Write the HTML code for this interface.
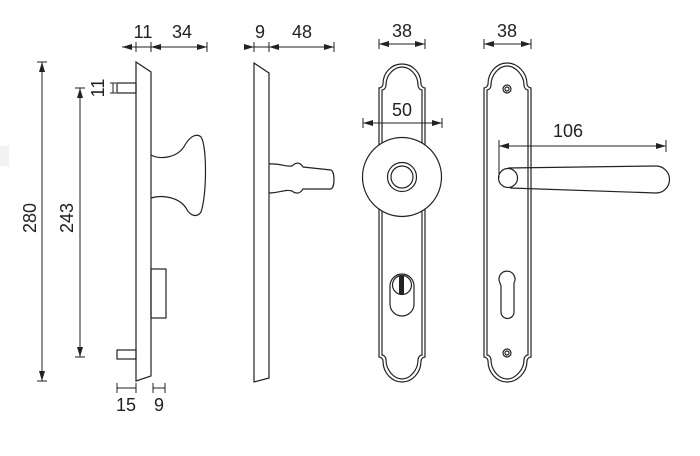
<!DOCTYPE html>
<html><head><meta charset="utf-8"><style>
html,body{margin:0;padding:0;background:#fff;}
svg{display:block;}
text{font-family:"Liberation Sans",sans-serif;font-size:18px;fill:#222;}
</style></head><body>
<svg width="700" height="456" viewBox="0 0 700 456" xmlns="http://www.w3.org/2000/svg">
<defs>
<marker id="a" viewBox="0 0 10 6" refX="10" refY="3" markerWidth="10" markerHeight="6" orient="auto-start-reverse" markerUnits="userSpaceOnUse"><path d="M0,0 L10,3 L0,6 Z" fill="#222"/></marker>
</defs>
<rect x="0" y="146" width="9" height="20" fill="#f2f2f2"/>
<g fill="none" stroke="#222" stroke-width="1.2">
<path d="M136,62 L151,72 L151,376 L136,381 Z"/>
<rect x="117" y="83" width="19" height="10"/>
<rect x="117" y="350" width="19" height="9"/>
<path d="M151,155 C160,160 178,158 185,145 C190,136 197,133 201,137 C207,145 207,195 201,212 C197,218 190,216 186,208 C178,196 160,195 151,198"/>
<rect x="151" y="269" width="15" height="49"/>
<line x1="122" y1="47" x2="136" y2="47" marker-start="url(#a)" stroke-width="1"/>
<line x1="136" y1="47" x2="151" y2="47" stroke-width="1"/>
<line x1="151" y1="47" x2="207" y2="47" marker-start="url(#a)" marker-end="url(#a)" stroke-width="1"/>
<line x1="136" y1="42" x2="136" y2="52" stroke-width="1"/>
<line x1="151" y1="42" x2="151" y2="52" stroke-width="1"/>
<line x1="207" y1="42" x2="207" y2="52" stroke-width="1"/>
<line x1="42" y1="62" x2="42" y2="381" marker-start="url(#a)" marker-end="url(#a)" stroke-width="1"/>
<line x1="37" y1="62" x2="47" y2="62" stroke-width="1"/>
<line x1="37" y1="381" x2="47" y2="381" stroke-width="1"/>
<line x1="80" y1="88" x2="80" y2="357" marker-start="url(#a)" marker-end="url(#a)" stroke-width="1"/>
<line x1="75" y1="88" x2="85" y2="88" stroke-width="1"/>
<line x1="75" y1="357" x2="85" y2="357" stroke-width="1"/>
<line x1="113" y1="83" x2="113" y2="93" stroke-width="1"/>
<line x1="110" y1="83" x2="116" y2="83" stroke-width="1"/>
<line x1="110" y1="93" x2="116" y2="93" stroke-width="1"/>
<line x1="117" y1="388" x2="136" y2="388" stroke-width="1"/>
<line x1="117" y1="383" x2="117" y2="393" stroke-width="1"/>
<line x1="136" y1="383" x2="136" y2="393" stroke-width="1"/>
<line x1="153" y1="388" x2="165" y2="388" stroke-width="1"/>
<line x1="153" y1="383" x2="153" y2="393" stroke-width="1"/>
<line x1="165" y1="383" x2="165" y2="393" stroke-width="1"/>
<path d="M254,63 L269,73 L269,378 L254,382 Z"/>
<path d="M269,164 C280,163 285,167 292,166 C296,162 300,162 303,167 L331,170 C335,172 335,187 331,189 L303,189 C300,194 296,194 292,191 C285,189 280,193 269,193"/>
<line x1="244" y1="47" x2="254" y2="47" marker-end="url(#a)" stroke-width="1"/>
<line x1="254" y1="47" x2="269" y2="47" stroke-width="1"/>
<line x1="269" y1="47" x2="334" y2="47" marker-start="url(#a)" marker-end="url(#a)" stroke-width="1"/>
<line x1="254" y1="42" x2="254" y2="52" stroke-width="1"/>
<line x1="269" y1="42" x2="269" y2="52" stroke-width="1"/>
<line x1="334" y1="42" x2="334" y2="52" stroke-width="1"/>
<path d="M379,88 C381,88 383,86 383,84 C383,72 392,64 402,64 C412,64 421,72 421,84 C421,86 423,88 425,88 L425,357 C423,357 421,359 421,361 C421,373 412,382 402,382 C392,382 383,373 383,361 C383,359 381,357 379,357 Z"/>
<path d="M382,90 C384,90 386,88 386,85 C386,75 394,67 402,67 C410,67 418,75 418,85 C418,88 420,90 422,90 L422,355 C420,355 418,357 418,360 C418,370 410,379 402,379 C394,379 386,370 386,360 C386,357 384,355 382,355 Z"/>
<circle cx="402" cy="177" r="39.5" fill="#fff"/>
<circle cx="402" cy="177" r="14.5"/>
<circle cx="402" cy="177" r="11"/>
<path d="M390,286 A12,12 0 1 1 414,286 L414,304 A12,12 0 0 1 390,304 Z"/>
<circle cx="402" cy="285" r="9.5"/>
<line x1="379" y1="44" x2="425" y2="44" marker-start="url(#a)" marker-end="url(#a)" stroke-width="1"/>
<line x1="379" y1="39" x2="379" y2="49" stroke-width="1"/>
<line x1="425" y1="39" x2="425" y2="49" stroke-width="1"/>
<line x1="363" y1="123" x2="442" y2="123" marker-start="url(#a)" marker-end="url(#a)" stroke-width="1"/>
<line x1="363" y1="118" x2="363" y2="128" stroke-width="1"/>
<line x1="442" y1="118" x2="442" y2="128" stroke-width="1"/>
<path d="M484,88 C486,88 488,86 488,84 C488,72 497,63 507,63 C517,63 527,72 527,84 C527,86 529,88 531,88 L531,357 C529,357 527,359 527,361 C527,373 517,382 507,382 C497,382 488,373 488,361 C488,359 486,357 484,357 Z"/>
<path d="M487,90 C489,90 491,88 491,85 C491,75 499,66 507,66 C515,66 524,75 524,85 C524,88 526,90 528,90 L528,355 C526,355 524,357 524,360 C524,370 515,379 507,379 C499,379 491,370 491,360 C491,357 489,355 487,355 Z"/>
<circle cx="507" cy="89" r="4"/><circle cx="507" cy="89" r="2"/>
<circle cx="507" cy="353" r="4"/><circle cx="507" cy="353" r="2"/>
<path d="M508,168 L656,166 A13.5,13.5 0 0 1 656,193 L510,188"/>
<circle cx="508" cy="178" r="9.5" fill="#fff"/>
<path d="M500,283 A8,8 0 1 1 514,283 L514,312 A3.5,3.5 0 0 1 501,312 L501,286 Z" stroke-linejoin="round"/>
<line x1="499" y1="146" x2="666" y2="146" marker-start="url(#a)" marker-end="url(#a)" stroke-width="1"/>
<line x1="499" y1="140" x2="499" y2="178" stroke-width="1"/>
<line x1="666" y1="140" x2="666" y2="152" stroke-width="1"/>
<line x1="484" y1="44" x2="531" y2="44" marker-start="url(#a)" marker-end="url(#a)" stroke-width="1"/>
<line x1="484" y1="39" x2="484" y2="49" stroke-width="1"/>
<line x1="531" y1="39" x2="531" y2="49" stroke-width="1"/>
</g>
<rect x="399" y="276" width="5" height="18" fill="#222"/>
<text x="143" y="38" text-anchor="middle">11</text>
<text x="182" y="38" text-anchor="middle">34</text>
<text x="260" y="38" text-anchor="middle">9</text>
<text x="302" y="38" text-anchor="middle">48</text>
<text x="402" y="37" text-anchor="middle">38</text>
<text x="507" y="37" text-anchor="middle">38</text>
<text x="402" y="116" text-anchor="middle">50</text>
<text x="568" y="137" text-anchor="middle">106</text>
<text x="126" y="411" text-anchor="middle">15</text>
<text x="159" y="411" text-anchor="middle">9</text>
<text transform="translate(36,218) rotate(-90)" text-anchor="middle">280</text>
<text transform="translate(73,218) rotate(-90)" text-anchor="middle">243</text>
<text transform="translate(104,88) rotate(-90)" text-anchor="middle">11</text>
</svg>
</body></html>
